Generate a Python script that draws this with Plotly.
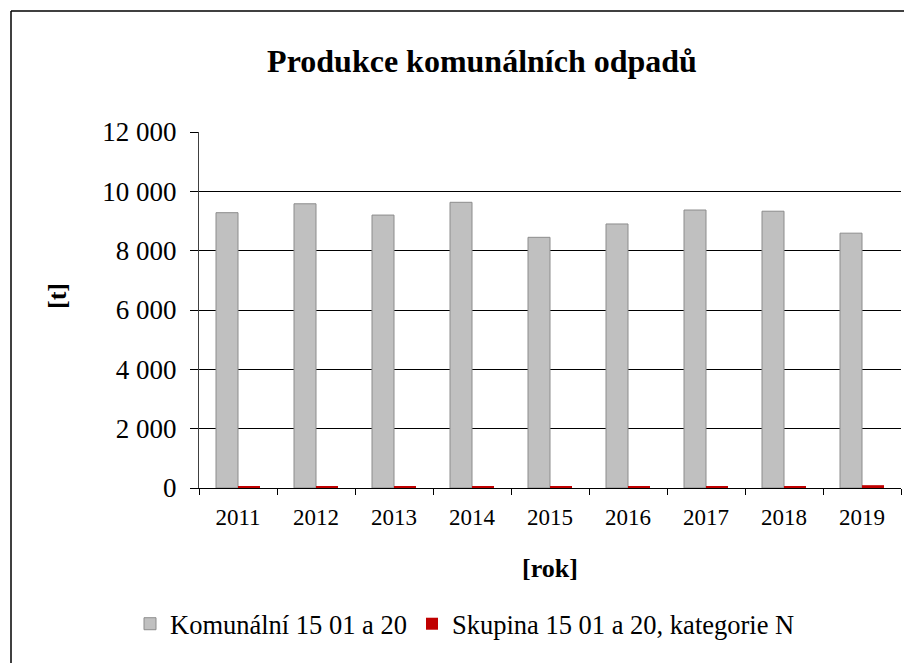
import plotly.graph_objects as go

years = ["2011", "2012", "2013", "2014", "2015", "2016", "2017", "2018", "2019"]
komunalni = [9280, 9580, 9200, 9630, 8450, 8900, 9370, 9330, 8590]
skupina_n = [45, 45, 45, 45, 45, 45, 45, 45, 95]
y_ticks = [0, 2000, 4000, 6000, 8000, 10000, 12000]
y_tick_text = ["0", "2 000", "4 000", "6 000", "8 000", "10 000", "12 000"]

FONT = "Liberation Serif"

fig = go.Figure()
fig.add_trace(go.Bar(
    x=years, y=komunalni, name="Komunální 15 01 a 20",
    marker=dict(color="#C0C0C0", line=dict(color="#8C8C8C", width=1)),
))
fig.add_trace(go.Bar(
    x=years, y=skupina_n, name="Skupina 15 01 a 20, kategorie N",
    marker=dict(color="#C00000", line=dict(width=0)),
))

OFF = 8  # page body margin
W, H = 912 - OFF, 663 - OFF
L, R, T, B = 199 - OFF, 11, 132 - OFF, 175
pw, ph = W - L - R, H - T - B


def px(x):
    return (x - OFF - L) / pw


def py(y):
    return (H - B - (y - OFF)) / ph


fig.update_layout(
    width=W, height=H,
    margin=dict(l=L, r=R, t=T, b=B),
    paper_bgcolor="white", plot_bgcolor="white",
    font=dict(family=FONT, color="black"),
    barmode="group", bargap=0.436, bargroupgap=0,
    title=dict(text="<b>Produkce komunálních odpadů</b>", font=dict(size=32, family=FONT),
               xref="container", x=(482 - OFF) / W, xanchor="center",
               yref="container", y=1 - (61 - OFF) / H, yanchor="middle"),
    legend=dict(orientation="h", xref="container", yref="container",
                x=(465 - OFF) / W, xanchor="center", y=1 - (624 - OFF) / H, yanchor="middle",
                font=dict(size=26.5, family=FONT), itemwidth=30,
                traceorder="normal"),
    annotations=[
        dict(text="<b>[t]</b>", xref="paper", yref="paper", x=px(57), y=py(296),
             xanchor="center", yanchor="middle", showarrow=False, textangle=-90,
             font=dict(size=26, family=FONT)),
    ],
    shapes=[
        dict(type="line", xref="paper", yref="paper", x0=px(11), x1=px(930), y0=py(11), y1=py(11),
             line=dict(color="black", width=1.5)),
        dict(type="line", xref="paper", yref="paper", x0=px(11), x1=px(11), y0=py(11), y1=py(680),
             line=dict(color="black", width=1.5)),
    ],
)

fig.update_xaxes(
    type="category", tickson="boundaries", ticks="outside", ticklen=6, tickcolor="black",
    showline=True, linecolor="black", linewidth=1, showgrid=False,
    tickfont=dict(size=23, family=FONT), ticklabelstandoff=8,
    title=dict(text="<b>[rok]</b>", font=dict(size=26, family=FONT), standoff=30),
)
fig.update_yaxes(
    range=[0, 12000], tickvals=y_ticks, ticktext=y_tick_text,
    ticks="outside", ticklen=8, tickcolor="black",
    showline=True, linecolor="#404040", linewidth=1,
    showgrid=True, gridcolor="black", gridwidth=1, zeroline=False,
    tickfont=dict(size=27, family=FONT), ticklabelstandoff=8,
)

fig.write_html("out.html")
